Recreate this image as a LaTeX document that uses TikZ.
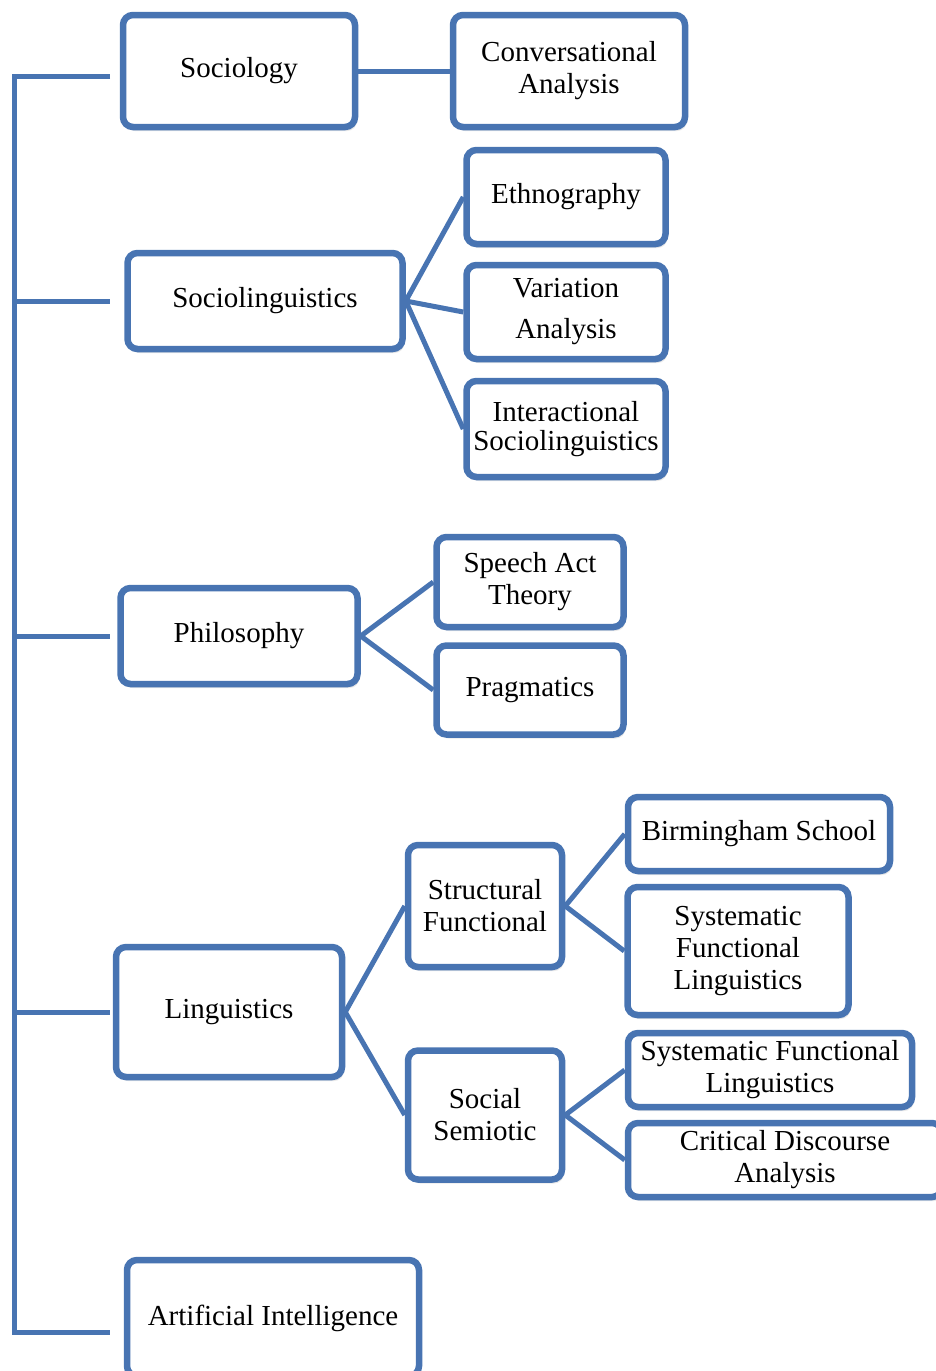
\documentclass[tikz,border=0pt]{standalone}
\usepackage{fontspec}
\setmainfont{Liberation Serif}
\usetikzlibrary{calc}
\usetikzlibrary{shadows}
\definecolor{boxblue}{RGB}{72,116,178}
\tikzset{
 topic/.style={draw=boxblue, line width=6.5pt, rounded corners=10pt, fill=white, align=center, inner sep=0,
   font=\fontsize{29}{32}\selectfont, drop shadow={opacity=.18, shadow xshift=2pt, shadow yshift=-4pt}},
 link/.style={boxblue, line width=5pt},
}

\begin{document}
\begin{tikzpicture}[x=1pt, y=-1pt]
\useasboundingbox (0,0) rectangle (935,1371);
\coordinate (spine top) at (14,76);
\coordinate (spine bot) at (14,1332);
\coordinate (stub) at (110,0);
% main fields
\node[topic, minimum width=232, minimum height=112] (sociology) at (239,71) {Sociology};
\node[topic, minimum width=275, minimum height=96] (socioling) at (265,301) {Sociolinguistics};
\node[topic, minimum width=237, minimum height=96] (philosophy) at (239,636) {Philosophy};
\node[topic, minimum width=226, minimum height=130] (linguistics) at (229,1012) {Linguistics};
\node[topic, minimum width=292, minimum height=116] (ai) at (273,1318) {Artificial Intelligence};
% sub fields
\node[topic, minimum width=232, minimum height=112] (conv) at (569,71) {Conversational\\Analysis};
\node[topic, minimum width=199, minimum height=94] (ethno) at (566,197) {Ethnography};
\node[topic, minimum width=199, minimum height=94] (variation) at (566,312) {Variation\\[9pt]Analysis};
\node[topic, minimum width=199, minimum height=96] (interact) at (566,429) {Interactional\\[-3pt]Sociolinguistics};
\node[topic, minimum width=187, minimum height=90] (speech) at (530,582) {Speech Act\\Theory};
\node[topic, minimum width=187, minimum height=89] (pragmatics) at (530,690) {Pragmatics};
\node[topic, minimum width=154, minimum height=122] (structural) at (485,906) {Structural\\Functional};
\node[topic, minimum width=154, minimum height=129] (social) at (485,1115) {Social\\Semiotic};
\node[topic, minimum width=262, minimum height=74] (birmingham) at (759,834) {Birmingham School};
\node[topic, minimum width=221, minimum height=128] (sflA) at (738,951) {Systematic\\Functional\\Linguistics};
\node[topic, minimum width=284, minimum height=74] (sflB) at (770,1070) {Systematic Functional\\Linguistics};
\node[topic, minimum width=314, minimum height=74] (cda) at (785,1160) {Critical Discourse\\Analysis};
% left spine
\draw[link] (spine top -| stub) -- (spine top) -- (spine bot) -- (spine bot -| stub);
\foreach \n in {socioling,philosophy,linguistics}
 \draw[link] (\n.west -| spine top) -- (\n.west -| stub);
% branches
\draw[link] (sociology) -- (conv);
\foreach \c in {ethno,variation,interact}
 \draw[link] (socioling.east) -- (\c.west);
\foreach \c in {speech,pragmatics}
 \draw[link] (philosophy.east) -- (\c.west);
\foreach \c in {structural,social}
 \draw[link] (linguistics.east) -- (\c.west);
\foreach \c in {birmingham,sflA}
 \draw[link] (structural.east) -- (\c.west);
\foreach \c in {sflB,cda}
 \draw[link] (social.east) -- (\c.west);
\end{tikzpicture}
\end{document}
